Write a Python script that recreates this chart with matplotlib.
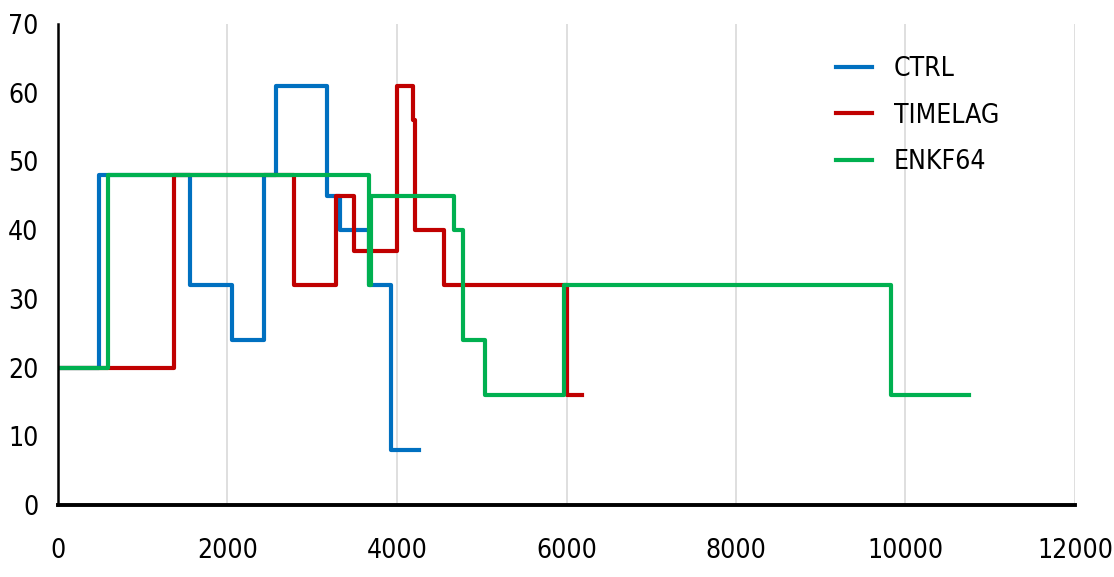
import matplotlib
matplotlib.use('Agg')
import matplotlib.pyplot as plt
from matplotlib import font_manager

# fechas de cambio (x) y valores (y) de cada serie, en escalones
ctrl_x = [0, 480, 1560, 2055, 2430, 2570, 3175, 3325, 3670, 3935, 4260]
ctrl_y = [20, 48, 32, 24, 48, 61, 45, 40, 32, 8, 8]

timelag_x = [0, 1372, 2787, 3285, 3490, 3995, 4190, 4218, 4550, 6005, 6180]
timelag_y = [20, 48, 32, 45, 37, 61, 56, 40, 32, 16, 16]

enkf_x = [0, 593, 3670, 3690, 4675, 4780, 5035, 5970, 9830, 10745]
enkf_y = [20, 48, 32, 45, 40, 24, 16, 32, 16, 16]

series = [('CTRL', ctrl_x, ctrl_y, '#0070C0'),
          ('TIMELAG', timelag_x, timelag_y, '#C00000'),
          ('ENKF64', enkf_x, enkf_y, '#00B050')]

x_ticks = [0, 2000, 4000, 6000, 8000, 10000, 12000]
y_ticks = [0, 10, 20, 30, 40, 50, 60, 70]

# buscar una fuente angosta si hay alguna instalada
nombres = set(f.name for f in font_manager.fontManager.ttflist)
angosta = [n for n in ['Liberation Sans Narrow', 'DejaVu Sans Condensed'] if n in nombres]
plt.rcParams['font.family'] = angosta + ['DejaVu Sans']
plt.rcParams['font.stretch'] = 'condensed'

fig = plt.figure(figsize=(11.14, 5.77), dpi=100)
ax = fig.add_axes([58/1114, 72/577, (1075-58)/1114, (505-24)/577])

for nombre, xs, ys, color in series:
    ax.plot(xs, ys, drawstyle='steps-post', color=color, lw=3, label=nombre)

ax.set_xlim(0, 12000)
ax.set_ylim(0, 70)
ax.set_xticks(x_ticks)
ax.set_yticks(y_ticks)
ax.grid(axis='x', color='#d9d9d9', lw=1.2)
ax.set_axisbelow(True)
for s in ['top', 'right']:
    ax.spines[s].set_visible(False)
ax.spines['left'].set_linewidth(1.8)
ax.spines['bottom'].set_linewidth(2.8)
ax.tick_params(axis='both', length=0, labelsize=19)
ax.tick_params(axis='y', pad=14)
ax.tick_params(axis='x', pad=24)

fig.legend(loc='upper left', bbox_to_anchor=(836/1114, 1 - 56/577), frameon=False,
           fontsize=19, handlelength=1.35, handletextpad=0.85, labelspacing=0.78,
           borderpad=0, borderaxespad=0)

fig.savefig('out.png', dpi=100)
